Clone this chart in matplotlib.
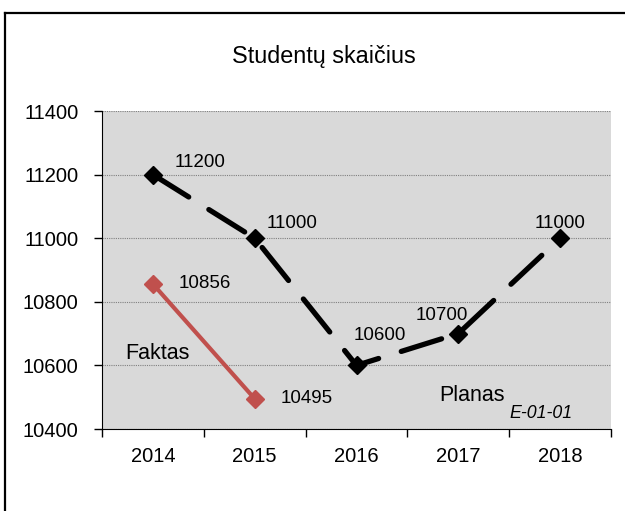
import numpy as np
import matplotlib
matplotlib.use('Agg')
import matplotlib.pyplot as plt
from matplotlib.lines import Line2D

plt.rcParams['font.family'] = ['Liberation Sans', 'DejaVu Sans']

years = ['2014', '2015', '2016', '2017', '2018']
planas = [11200, 11000, 10600, 10700, 11000]
faktas = [10856, 10495]

# label offsets in pixels (dx, dy) relative to each point
plan_offsets = [(47, 12), (37, 15), (23, 30), (-16, 18), (0, 15)]
fakt_offsets = [(52, 0), (52, 0)]

W, H = 625, 511
fig = plt.figure(figsize=(W / 100, H / 100), dpi=100)
fig.patch.set_facecolor('white')

ax = fig.add_axes([102 / W, 1 - 429 / H, (611 - 102) / W, (429 - 111) / H])
ax.set_facecolor('#d9d9d9')

x_plan = np.arange(len(planas))
x_fakt = np.arange(len(faktas))

ax.plot(x_plan, planas, color='black', lw=3.8, marker='D', ms=9.5,
        dashes=(8, 4.5), dash_capstyle='round', solid_capstyle='round', zorder=4)
ax.plot(x_fakt, faktas, color='#c0504d', lw=3.0, marker='D', ms=9.5, zorder=4)

for xi, yi, (dx, dy) in zip(x_plan, planas, plan_offsets):
    ax.annotate(str(yi), (xi, yi), xytext=(dx, dy), textcoords='offset pixels',
                ha='center', va='center', fontsize=13.5, color='black', zorder=5)
for xi, yi, (dx, dy) in zip(x_fakt, faktas, fakt_offsets):
    ax.annotate(str(yi), (xi, yi), xytext=(dx, dy), textcoords='offset pixels',
                ha='center', va='center', fontsize=13.5, color='black', zorder=5)

ax.set_xlim(-0.5, len(years) - 0.5)
ax.set_ylim(10400, 11400)
ax.set_yticks(np.arange(10400, 11401, 200))
ax.set_xticks(x_plan)
ax.set_xticklabels(years)
ax.set_xticks(np.arange(-0.5, len(years), 1.0), minor=True)
ax.tick_params(axis='x', which='major', length=0, pad=13, labelsize=14.5)
ax.tick_params(axis='x', which='minor', length=6, width=1, direction='out')
ax.tick_params(axis='y', length=6, width=1, direction='out', pad=11, labelsize=14.5)

ax.grid(axis='y', color='#808080', linestyle=(0, (1, 1)), linewidth=0.8, zorder=1)
ax.set_axisbelow(True)
for side in ['top', 'right']:
    ax.spines[side].set_visible(False)
ax.spines['left'].set_color('black')
ax.spines['bottom'].set_color('black')

fig.text(157 / W, 1 - 353 / H, 'Faktas', ha='center', va='center', fontsize=15.5)
fig.text(472 / W, 1 - 395 / H, 'Planas', ha='center', va='center', fontsize=15.5)
fig.text(541 / W, 1 - 413 / H, 'E-01-01', ha='center', va='center', fontsize=12.8, style='italic')

fig.text(324 / W, 1 - 57 / H, 'Studentų skaičius', ha='center', va='center', fontsize=16.8)

# outer frame (top and left edges visible)
fig.add_artist(Line2D([5 / W, 5 / W], [0, 1 - 13 / H], color='black', lw=1.6))
fig.add_artist(Line2D([5 / W, 1], [1 - 13 / H, 1 - 13 / H], color='black', lw=1.6))

fig.savefig('out.png', dpi=100)
